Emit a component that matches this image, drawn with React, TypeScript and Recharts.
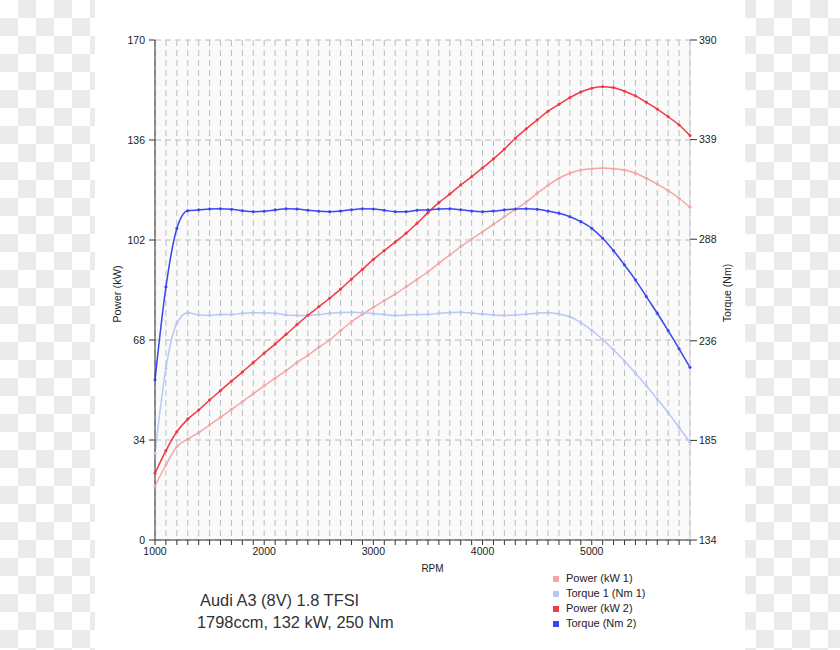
import React from 'react';
import { LineChart, Line, XAxis, YAxis, CartesianGrid } from 'recharts';

const rpm = [
  1000, 1100, 1200, 1300, 1400, 1500, 1600, 1700, 1800, 1900,
  2000, 2100, 2200, 2300, 2400, 2500, 2600, 2700, 2800, 2900,
  3000, 3100, 3200, 3300, 3400, 3500, 3600, 3700, 3800, 3900,
  4000, 4100, 4200, 4300, 4400, 4500, 4600, 4700, 4800, 4900,
  5000, 5100, 5200, 5300, 5400, 5500, 5600, 5700, 5800, 5900,
];

const powerKw1 = [
  18.4, 25.5, 31.7, 34.3, 36.5, 39.1, 41.7, 44.4, 47.0, 49.7,
  52.4, 55.0, 57.6, 60.3, 62.8, 65.5, 68.0, 71.2, 74.2, 76.7,
  79.1, 81.4, 83.6, 86.1, 88.6, 91.2, 94.1, 96.9, 99.7, 102.3,
  104.8, 107.3, 109.9, 112.4, 114.9, 117.9, 120.6, 123.0, 124.7, 125.8,
  126.2, 126.5, 126.2, 125.8, 124.7, 123.0, 121.0, 118.8, 116.2, 113.1,
];

const torqueNm1 = [
  178.4, 222, 245, 250.4, 249.2, 249.0, 249.4, 249.4, 250.1, 250.4,
  250.4, 250.1, 249.2, 249.0, 249.0, 249.4, 250.1, 250.4, 250.6, 250.4,
  249.9, 249.4, 249.0, 249.2, 249.4, 249.4, 250.1, 250.4, 250.6, 250.2,
  249.7, 249.2, 249.0, 249.2, 249.6, 250.1, 250.4, 249.7, 248.3, 245.3,
  241.4, 236.6, 231.4, 225.6, 219.4, 213.0, 206.2, 199.2, 191.6, 184.0,
];

const powerKw2 = [
  22.7, 30.4, 36.8, 41.1, 44.2, 47.6, 50.8, 54.0, 57.1, 60.3,
  63.5, 66.6, 69.9, 73.2, 76.4, 79.3, 82.2, 85.3, 88.7, 92.0,
  95.4, 98.4, 101.3, 104.3, 107.7, 111.3, 114.7, 117.6, 120.7, 123.5,
  126.5, 129.6, 132.9, 136.6, 139.8, 142.8, 145.8, 148.1, 150.4, 152.3,
  153.6, 154.1, 153.8, 152.6, 151.0, 148.8, 146.5, 143.9, 141.1, 137.5,
];

const torqueNm2 = [
  216, 263.5, 293.5, 302.6, 303, 303.5, 303.6, 303.3, 302.6, 302.1,
  302.3, 303, 303.6, 303.5, 302.8, 302.3, 302.1, 302.4, 303.1, 303.6,
  303.5, 302.8, 302.1, 302.1, 302.8, 303, 303.5, 303.6, 303.1, 302.4,
  302.1, 302.4, 303, 303.5, 303.6, 303.3, 302.4, 301.3, 299.5, 297,
  293.6, 288.5, 282.1, 274.8, 267.2, 258.6, 250.1, 241.2, 231.9, 222.4,
];

const powerTicks = [0, 34, 68, 102, 136, 170];
const torqueTicks = [134, 185, 236, 288, 339, 390];

const series = [
  { key: 'p1', name: 'Power (kW 1)', color: '#f4a6a6', axis: 'power' },
  { key: 't1', name: 'Torque 1 (Nm 1)', color: '#b9c7f5', axis: 'torque' },
  { key: 'p2', name: 'Power (kW 2)', color: '#f03a46', axis: 'power' },
  { key: 't2', name: 'Torque (Nm 2)', color: '#3a46f0', axis: 'torque' },
];

const data = rpm.map((r, i) => ({
  rpm: r,
  p1: powerKw1[i],
  t1: torqueNm1[i],
  p2: powerKw2[i],
  t2: torqueNm2[i],
}));

const font = 'Liberation Sans, Arial, sans-serif';

const checker = (offsetX: number): React.CSSProperties => ({
  position: 'absolute',
  top: 0,
  height: 650,
  backgroundImage: 'conic-gradient(#ebebeb 25%, #ffffff 0 50%, #ebebeb 0 75%, #ffffff 0)',
  backgroundSize: '36px 36px',
  backgroundPosition: `${offsetX}px 0`,
});

function LegendBox() {
  return (
    <div style={{ position: 'absolute', left: 553, top: 571, fontFamily: font, fontSize: 11, color: '#222' }}>
      {series.map((s) => (
        <div key={s.key} style={{ height: 15, lineHeight: '15px', display: 'flex', alignItems: 'center' }}>
          <span style={{ width: 6, height: 6, background: s.color, display: 'inline-block', marginRight: 7 }} />
          {s.name}
        </div>
      ))}
    </div>
  );
}

export default function App() {
  return (
    <div style={{ position: 'absolute', left: 0, top: 0, width: 840, height: 650, background: '#fff', overflow: 'hidden' }}>
      <div style={{ ...checker(0), left: 0, width: 95 }} />
      <div style={{ ...checker(-25), left: 745, width: 95 }} />
      <div style={{ position: 'absolute', left: 0, top: 0 }}>
        <LineChart
          width={840}
          height={650}
          data={data}
          margin={{ top: 40, right: 90, left: 95, bottom: 78 }}
          style={{ fontFamily: font }}
        >
          <CartesianGrid
            yAxisId="power"
            stroke="#bcbcbc"
            strokeDasharray="6 4"
            fill="#fafafa"
          />
          <XAxis
            dataKey="rpm"
            type="number"
            domain={[1000, 5900]}
            ticks={rpm}
            interval={0}
            tickFormatter={(v: number) => (v % 1000 === 0 ? String(v) : '')}
            height={32}
            tickSize={5}
            tickMargin={3}
            axisLine={{ stroke: '#333' }}
            tickLine={{ stroke: '#333' }}
            tick={{ fill: '#222', fontSize: 10.5 }}
            label={{ value: 'RPM', position: 'insideBottom', offset: 0, dx: 10, fill: '#222', fontSize: 10 }}
          />
          <YAxis
            yAxisId="power"
            domain={[0, 170]}
            ticks={powerTicks}
            interval={0}
            width={60}
            tickSize={6}
            tickMargin={4}
            axisLine={{ stroke: '#333' }}
            tickLine={{ stroke: '#333' }}
            tick={{ fill: '#222', fontSize: 10.5 }}
            label={{ value: 'Power (kW)', angle: -90, position: 'insideLeft', offset: 22, dy: 4, fill: '#222', fontSize: 11, style: { textAnchor: 'middle' } }}
          />
          <YAxis
            yAxisId="torque"
            orientation="right"
            domain={[134, 390]}
            ticks={torqueTicks}
            interval={0}
            width={60}
            tickSize={7}
            tickMargin={2}
            axisLine={{ stroke: '#cccccc' }}
            tickLine={{ stroke: '#333' }}
            tick={{ fill: '#222', fontSize: 10.5 }}
            label={{ value: 'Torque (Nm)', angle: -90, position: 'insideRight', offset: 23, dy: 3, fill: '#222', fontSize: 10.5, style: { textAnchor: 'middle' } }}
          />
          {series.map((s) => (
            <Line
              key={s.key}
              yAxisId={s.axis}
              dataKey={s.key}
              name={s.name}
              type="monotone"
              stroke={s.color}
              strokeWidth={1.5}
              dot={{ r: 1.3, fill: s.color, stroke: s.color, strokeWidth: 0.5 }}
              isAnimationActive={false}
            />
          ))}
        </LineChart>
      </div>
      <LegendBox />
      <svg width={840} height={650} style={{ position: 'absolute', left: 0, top: 0, pointerEvents: 'none' }}>
        <text x={200} y={605.7} fontFamily={font} fontSize={16.4} fill="#333">Audi A3 (8V) 1.8 TFSI</text>
        <text x={197} y={627.7} fontFamily={font} fontSize={16.4} fill="#333">1798ccm, 132 kW, 250 Nm</text>
      </svg>
    </div>
  );
}
